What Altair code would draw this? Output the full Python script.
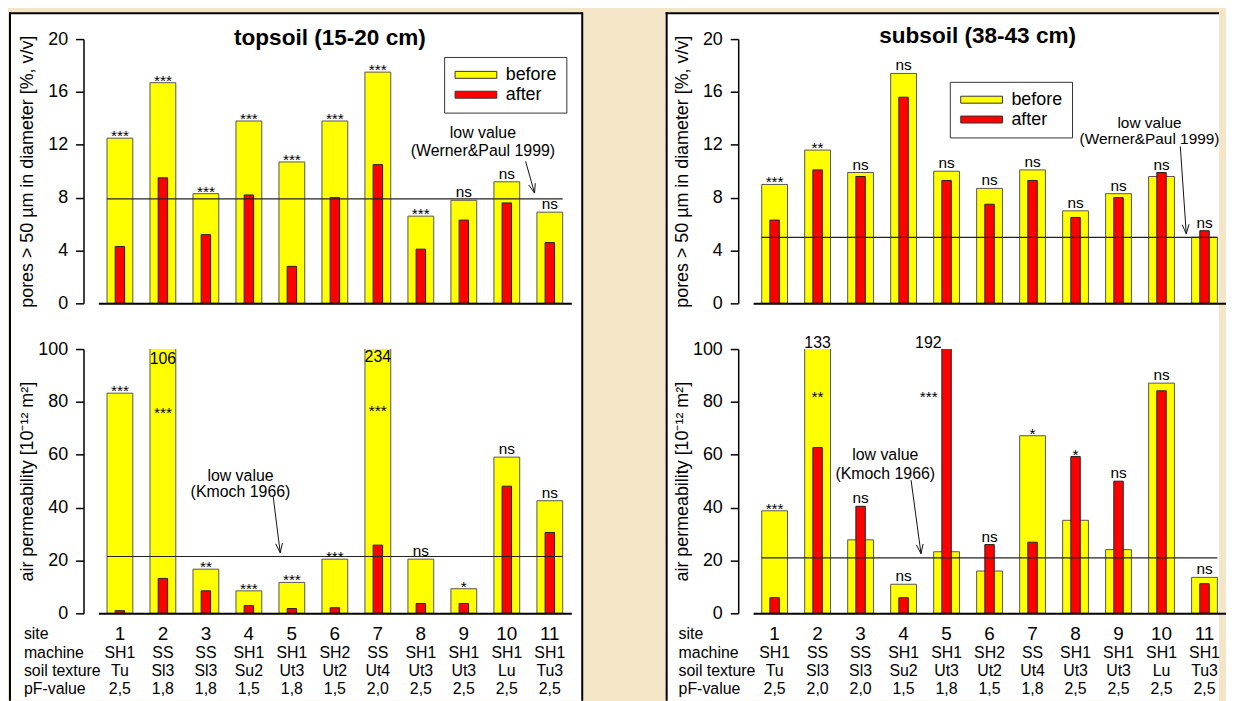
import math
import altair as alt
import pandas as pd

FONT = "Liberation Sans"
BG = "#F4E5C6"

# ---------------- data ----------------
sites = [str(i) for i in range(1, 12)]
machine = ["SH1", "SS", "SS", "SH1", "SH1", "SH2", "SS", "SH1", "SH1", "SH1", "SH1"]
texture = ["Tu", "Sl3", "Sl3", "Su2", "Ut3", "Ut2", "Ut4", "Ut3", "Ut3", "Lu", "Tu3"]
pf_top = ["2,5", "1,8", "1,8", "1,5", "1,8", "1,5", "2,0", "2,5", "2,5", "2,5", "2,5"]
pf_sub = ["2,5", "2,0", "2,0", "1,5", "1,8", "1,5", "1,8", "2,5", "2,5", "2,5", "2,5"]

top_pores_before = [12.5, 16.7, 8.3, 13.8, 10.7, 13.8, 17.5, 6.6, 7.8, 9.2, 6.9]
top_pores_after = [4.3, 9.5, 5.2, 8.2, 2.8, 8.0, 10.5, 4.1, 6.3, 7.6, 4.6]
top_pores_sig = ["***", "***", "***", "***", "***", "***", "***", "***", "ns", "ns", "ns"]

sub_pores_before = [9.0, 11.6, 9.9, 17.4, 10.0, 8.7, 10.1, 7.0, 8.3, 9.6, 5.0]
sub_pores_after = [6.3, 10.1, 9.6, 15.6, 9.3, 7.5, 9.3, 6.5, 8.0, 9.9, 5.5]
sub_pores_sig = ["***", "**", "ns", "ns", "ns", "ns", "ns", "ns", "ns", "ns", "ns"]

top_air_before = [83.3, 106, 16.7, 8.5, 11.7, 20.5, 234, 20.5, 9.3, 59.1, 42.6]
top_air_after = [1.0, 13.2, 8.5, 2.9, 1.8, 2.1, 25.8, 3.7, 3.7, 48.1, 30.6]
top_air_sig = ["***", "***", "**", "***", "***", "***", "***", "ns", "*", "ns", "ns"]

sub_air_before = [38.8, 133, 27.8, 11.0, 23.3, 16.0, 67.2, 35.2, 24.1, 87.1, 13.6]
sub_air_after = [5.9, 62.7, 40.5, 5.9, 192, 26.0, 26.9, 59.3, 50.0, 84.2, 11.2]
sub_air_sig = ["***", "**", "ns", "ns", "***", "ns", "*", "*", "ns", "ns", "ns"]

low_top_pores = 7.9
low_sub_pores = 5.0
low_top_air = 21.5
low_sub_air = 21.0

# label placement for values beyond the axis (site -> (label y, align))
top_air_sig_pos = {"2": (75.2, "center"), "7": (75.9, "center")}
sub_air_sig_pos = {"2": (81.2, "center"), "5": (81.0, "right")}
top_air_big = [("2", 96.2, "106", "center"), ("7", 97.0, "234", "center")]
sub_air_big = [("2", 102.3, "133", "center"), ("5", 102.3, "192", "right")]

# ---------------- layout ----------------
W, H = 476, 266
VGAP, HGAP = 46, 183
STEP = W / len(sites)
RED_W = 9.5
LINE_X0 = STEP * 0.2
LINE_X1 = W - STEP * 0.2

one = pd.DataFrame({"k": [0]})
color_scale = alt.Scale(domain=["before", "after"], range=["#FFFF00", "#FF0000"])
xscale = alt.Scale(paddingInner=0.4, paddingOuter=0.2)
xaxis = alt.Axis(labels=False, ticks=False, title=None, domainColor="black",
                 domainWidth=2, grid=False, zindex=1)


def make_legend(x, y):
    return alt.Legend(orient="none", legendX=x, legendY=y, title=None,
                      symbolType="M-3,-0.5H3V0.5H-3Z", symbolSize=196,
                      symbolOffset=14, labelOffset=21, labelFontSize=18,
                      labelFont=FONT, labelColor="black", padding=9,
                      fillColor="white", strokeColor="#333333",
                      symbolStrokeColor="#333333", symbolStrokeWidth=1,
                      rowPadding=2, cornerRadius=0)


def yaxis_for(values, title):
    return alt.Axis(values=values, offset=15, tickSize=8, tickWidth=1.5,
                    tickColor="black", domainColor="black", domainWidth=1.5,
                    labelFont=FONT, labelFontSize=18, labelColor="black",
                    labelPadding=8, labelFlush=False, grid=False, title=title,
                    titleFont=FONT, titleFontSize=18, titleFontWeight="normal",
                    titleColor="black", titleX=-56, titleBaseline="middle",
                    zindex=1)


def text_at(x, y, txt, size=16, align="center", weight="normal", baseline="middle"):
    return alt.Chart(one).mark_text(font=FONT, fontSize=size, align=align,
                                    baseline=baseline, fontWeight=weight,
                                    color="black").encode(
        x=alt.value(x), y=alt.value(y), text=alt.value(txt))


def seg(x0, y0, x1, y1, color="#111111", width=1.0):
    return alt.Chart(one).mark_rule(color=color, strokeWidth=width).encode(
        x=alt.value(x0), y=alt.value(y0), x2=alt.value(x1), y2=alt.value(y1))


def arrow(x0, y0, x1, y1, head=10, ang=20):
    n = math.hypot(x1 - x0, y1 - y0)
    ux, uy = (x0 - x1) / n, (y0 - y1) / n
    segs = [seg(x0, y0, x1, y1)]
    for s in (1, -1):
        a = math.radians(ang * s)
        cx = ux * math.cos(a) - uy * math.sin(a)
        cy = ux * math.sin(a) + uy * math.cos(a)
        segs.append(seg(x1, y1, x1 + head * cx, y1 + head * cy))
    return segs


def panel_box(x0, x1, y0, y1, sides):
    out = [alt.Chart(one).mark_rect(fill="white", strokeWidth=0).encode(
        x=alt.value(x0), x2=alt.value(x1), y=alt.value(y0), y2=alt.value(y1))]
    if "left" in sides:
        out.append(seg(x0, y0 - 1, x0, y1, "black", 2))
    if "top" in sides:
        out.append(seg(x0 - 1, y0, x1, y0, "black", 2))
    if "right" in sides:
        out.append(seg(x1, y0 - 1, x1, y1, "black", 2))
    return out


def subplot(before, after, sig, ymax, yvalues, ytitle, low, legend=None,
            sig_pos=None, big=None, ann=None, box=None, title=None, table=None):
    sig_pos = sig_pos or {}
    big = big or []
    yscale = alt.Scale(domain=[0, ymax], nice=False, zero=True)
    yaxis = yaxis_for(yvalues, ytitle)
    X = alt.X("site:N", sort=sites, scale=xscale, axis=xaxis)

    rows = []
    for s, b, a in zip(sites, before, after):
        rows.append({"site": s, "series": "before", "value": b})
        rows.append({"site": s, "series": "after", "value": a})
    df_long = pd.DataFrame(rows)

    layers = []
    if box is not None:
        layers += panel_box(*box)

    if legend is not None:
        col = alt.Color("series:N", scale=color_scale, legend=legend)
        yellow = alt.Chart(df_long).transform_filter(alt.datum.series == "before").mark_bar(
            clip=True, stroke="#555555", strokeWidth=1).encode(
            x=X, y=alt.Y("value:Q", scale=yscale, axis=yaxis), color=col)
        red = alt.Chart(df_long).transform_filter(alt.datum.series == "after").mark_bar(
            clip=True, width=RED_W, stroke="#222222", strokeWidth=1).encode(
            x=X, y=alt.Y("value:Q", scale=yscale, axis=yaxis), color=col)
    else:
        yellow = alt.Chart(df_long).transform_filter(alt.datum.series == "before").mark_bar(
            clip=True, fill="#FFFF00", stroke="#555555", strokeWidth=1).encode(
            x=X, y=alt.Y("value:Q", scale=yscale, axis=yaxis))
        red = alt.Chart(df_long).transform_filter(alt.datum.series == "after").mark_bar(
            clip=True, width=RED_W, fill="#FF0000", stroke="#222222", strokeWidth=1).encode(
            x=X, y=alt.Y("value:Q", scale=yscale, axis=yaxis))
    layers += [yellow, red]

    # low value line
    low_df = pd.DataFrame({"low": [low]})
    layers.append(alt.Chart(low_df).mark_rule(color="#222222", strokeWidth=1.2).encode(
        x=alt.value(LINE_X0), x2=alt.value(LINE_X1),
        y=alt.Y("low:Q", scale=yscale, axis=yaxis)))

    # significance labels
    srows = []
    for s, b, a, g in zip(sites, before, after, sig):
        if s in sig_pos:
            yv, al = sig_pos[s]
        else:
            yv, al = min(max(b, a), ymax), "center"
        srows.append({"site": s, "sig": g, "label_y": yv,
                      "kind": "ns" if g == "ns" else "star", "align": al})
    sdf = pd.DataFrame(srows)
    for (kind, al), sub in sdf.groupby(["kind", "align"]):
        dy = 3 if kind == "star" else -3
        dx = -9 if al == "right" else 0
        layers.append(alt.Chart(sub).mark_text(
            font=FONT, fontSize=15.5, baseline="alphabetic", align=al, dx=dx,
            dy=dy, color="black").encode(
            x=X, y=alt.Y("label_y:Q", scale=yscale, axis=yaxis), text="sig:N"))

    # values beyond the axis
    if big:
        bdf = pd.DataFrame(big, columns=["site", "label_y", "txt", "align"])
        for al, sub in bdf.groupby("align"):
            dx = -5 if al == "right" else 0
            layers.append(alt.Chart(sub).mark_text(
                font=FONT, fontSize=16, baseline="middle", align=al, dx=dx,
                color="black").encode(
                x=X, y=alt.Y("label_y:Q", scale=yscale, axis=yaxis), text="txt:N"))

    # annotation
    if ann is not None:
        (tx, ty1, ty2, line2, fs), (ax0, ay0, ax1, ay1) = ann
        layers.append(text_at(tx, ty1, "low value", fs))
        layers.append(text_at(tx, ty2, line2, fs))
        layers += arrow(ax0, ay0, ax1, ay1)

    if title is not None:
        tx, ty, ttxt = title
        layers.append(text_at(tx, ty, ttxt, 22.7, weight="bold", baseline="alphabetic"))

    if table is not None:
        tdf = pd.DataFrame({"site": sites, "machine": machine,
                            "texture": texture, "pf": table})
        trows = [("site", "site", H + 21, 19), ("machine", "machine", H + 40, 16),
                 ("texture", "soil texture", H + 58, 16), ("pf", "pF-value", H + 76, 16)]
        for field, label, ypx, fs in trows:
            layers.append(alt.Chart(tdf).mark_text(
                font=FONT, fontSize=fs, baseline="middle", color="black").encode(
                x=X, y=alt.value(ypx), text=f"{field}:N"))
            layers.append(text_at(-75, ypx, label, 16, align="left"))

    return alt.layer(*layers).properties(width=W, height=H)


POR_TITLE = "pores > 50 µm in diameter [%, v/v]"
AIR_TITLE = "air permeability [10⁻¹² m²]"

left_top = subplot(top_pores_before, top_pores_after, top_pores_sig, 20,
                   [0, 4, 8, 12, 16, 20], POR_TITLE, low_top_pores,
                   legend=make_legend(348, 18),
                   ann=((387, 95, 113, "(Werner&Paul 1999)", 16), (430, 123, 439, 155)),
                   box=(-89, 487, -26, 666, ("left", "top", "right")),
                   title=(233, 6, "topsoil (15-20 cm)"))
left_bot = subplot(top_air_before, top_air_after, top_air_sig, 100,
                   [0, 20, 40, 60, 80, 100], AIR_TITLE, low_top_air,
                   sig_pos=top_air_sig_pos, big=top_air_big,
                   ann=((143, 128, 144, "(Kmoch 1966)", 16), (176, 149, 183, 205)),
                   table=pf_top)
right_top = subplot(sub_pores_before, sub_pores_after, sub_pores_sig, 20,
                    [0, 4, 8, 12, 16, 20], POR_TITLE, low_sub_pores,
                    legend=make_legend(198, 43),
                    ann=((399, 85, 101, "(Werner&Paul 1999)", 15.5), (430, 108, 436, 196)),
                    box=(-87, 469, -26, 666, ("left", "top")),
                    title=(226, 4, "subsoil (38-43 cm)"))
right_bot = subplot(sub_air_before, sub_air_after, sub_air_sig, 100,
                    [0, 20, 40, 60, 80, 100], AIR_TITLE, low_sub_air,
                    sig_pos=sub_air_sig_pos, big=sub_air_big,
                    ann=((133, 107, 126, "(Kmoch 1966)", 16), (159, 132, 169, 206)),
                    table=pf_sub)

chart = alt.concat(left_top, right_top, left_bot, right_bot, columns=2,
                   spacing={"row": VGAP, "column": HGAP}, bounds="flush").resolve_scale(
    color="independent").properties(
    background=BG, padding={"left": 0, "top": 1, "right": 0, "bottom": 0}
).configure_view(strokeWidth=0)

chart.save("out.html", embed_options={"renderer": "svg", "actions": False})
